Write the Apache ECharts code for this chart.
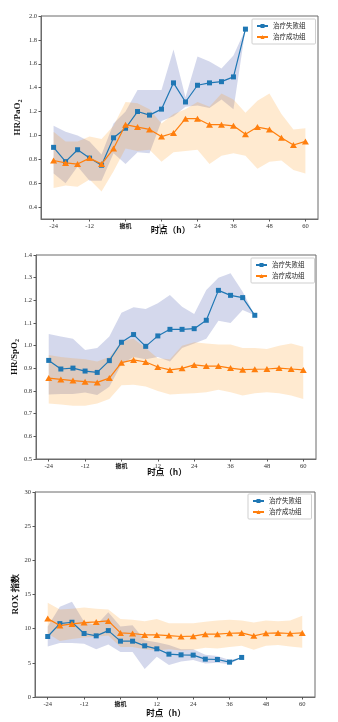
<!DOCTYPE html>
<html>
<head>
<meta charset="utf-8">
<style>
  html, body { margin: 0; padding: 0; background: #fff; }
  #chart { width: 338px; height: 722px; }
</style>
<script src="https://cdn.jsdelivr.net/npm/echarts@6/dist/echarts.min.js"></script>
</head>
<body>
<div id="chart"></div>
<script>
// Time points (h) relative to weaning (0 = 撤机)
const hours = [-24, -20, -16, -12, -8, -4, 0, 4, 8, 12, 16, 20, 24, 28, 32, 36, 40, 44, 48, 52, 56, 60];
const xTicks = [-24, -12, 0, 12, 24, 36, 48, 60];

// Panel 1: HR/PaO2
const pfFail   = [0.90, 0.78, 0.88, 0.81, 0.75, 0.98, 1.06, 1.20, 1.17, 1.22, 1.44, 1.28, 1.42, 1.44, 1.45, 1.49, 1.89];
const pfFailHi = [1.08, 1.03, 1.00, 0.95, 0.84, 1.10, 1.20, 1.38, 1.38, 1.38, 1.72, 1.32, 1.66, 1.62, 1.56, 1.67, 1.89];
const pfFailLo = [0.68, 0.60, 0.74, 0.62, 0.62, 0.85, 0.76, 0.86, 0.85, 1.12, 1.16, 1.24, 1.25, 1.23, 1.30, 1.22, 1.89];
const pfSucc   = [0.79, 0.77, 0.76, 0.81, 0.76, 0.89, 1.09, 1.07, 1.05, 0.99, 1.02, 1.14, 1.14, 1.09, 1.09, 1.08, 1.01, 1.07, 1.05, 0.98, 0.92, 0.95];
const pfSuccHi = [1.03, 0.95, 0.95, 0.99, 0.97, 1.08, 1.28, 1.27, 1.22, 1.10, 1.18, 1.22, 1.28, 1.24, 1.35, 1.30, 1.19, 1.29, 1.35, 1.18, 1.05, 1.06];
const pfSuccLo = [0.56, 0.58, 0.57, 0.63, 0.53, 0.70, 0.89, 0.87, 0.88, 0.78, 0.86, 0.87, 0.88, 0.76, 0.83, 0.85, 0.83, 0.72, 0.78, 0.79, 0.71, 0.68];
const pfTicks  = [0.4, 0.6, 0.8, 1.0, 1.2, 1.4, 1.6, 1.8, 2.0];

// Panel 2: HR/SpO2
const sfFail   = [0.935, 0.897, 0.901, 0.888, 0.882, 0.934, 1.015, 1.049, 0.997, 1.043, 1.072, 1.072, 1.075, 1.112, 1.244, 1.222, 1.212, 1.134];
const sfFailHi = [1.051, 1.040, 1.030, 0.981, 0.990, 1.040, 1.145, 1.169, 1.162, 1.187, 1.224, 1.172, 1.140, 1.246, 1.300, 1.319, 1.238, 1.134];
const sfFailLo = [0.785, 0.787, 0.787, 0.793, 0.782, 0.819, 0.918, 0.950, 0.940, 0.950, 0.930, 0.990, 1.010, 1.030, 1.110, 1.100, 1.157, 1.134];
const sfSucc   = [0.857, 0.851, 0.846, 0.841, 0.838, 0.857, 0.925, 0.937, 0.928, 0.906, 0.893, 0.900, 0.915, 0.910, 0.910, 0.901, 0.894, 0.896, 0.897, 0.901, 0.897, 0.893];
const sfSuccHi = [0.959, 0.950, 0.945, 0.940, 0.930, 0.950, 1.020, 1.030, 0.990, 0.945, 0.940, 1.000, 1.015, 1.010, 1.005, 1.005, 0.990, 0.990, 0.985, 1.000, 1.010, 0.995];
const sfSuccLo = [0.745, 0.740, 0.735, 0.735, 0.745, 0.765, 0.825, 0.828, 0.820, 0.800, 0.785, 0.788, 0.790, 0.795, 0.805, 0.795, 0.780, 0.790, 0.795, 0.790, 0.780, 0.765];
const sfTicks  = [0.5, 0.6, 0.7, 0.8, 0.9, 1.0, 1.1, 1.2, 1.3, 1.4];

// Panel 3: ROX index
const roxFail   = [8.85, 10.74, 10.94, 9.29, 8.95, 9.72, 8.17, 8.17, 7.49, 7.05, 6.27, 6.17, 6.13, 5.54, 5.49, 5.10, 5.79];
const roxFailHi = [10.3, 13.2, 13.95, 11.0, 10.5, 12.4, 10.3, 10.5, 8.3, 8.0, 7.6, 7.0, 7.0, 6.2, 6.0, 5.4, 5.79];
const roxFailLo = [7.4, 7.9, 7.9, 7.8, 7.0, 7.7, 6.6, 6.6, 4.1, 5.9, 4.7, 5.2, 5.4, 4.9, 5.0, 4.8, 5.79];
const roxSucc   = [11.47, 10.45, 10.70, 10.89, 10.99, 11.13, 9.38, 9.29, 9.09, 9.09, 8.99, 8.85, 8.90, 9.19, 9.19, 9.33, 9.38, 8.95, 9.33, 9.38, 9.29, 9.38];
const roxSuccHi = [13.8, 12.8, 12.9, 13.1, 12.9, 12.8, 11.4, 11.3, 11.1, 11.4, 10.8, 10.8, 10.8, 11.0, 11.2, 11.3, 11.2, 10.9, 11.2, 11.1, 11.2, 11.9];
const roxSuccLo = [9.3, 8.2, 8.5, 8.7, 8.8, 9.0, 7.3, 7.3, 7.0, 6.8, 7.0, 6.8, 6.9, 7.2, 7.1, 7.3, 7.5, 6.9, 7.5, 7.6, 7.4, 7.2];
const roxTicks  = [0, 5, 10, 15, 20, 25, 30];

const FAIL = '治疗失败组';
const SUCC = '治疗成功组';
const BLUE = '#1f77b4';
const ORANGE = '#ff7f0e';
const BLUE_BAND = 'rgba(40, 60, 160, 0.2)';
const ORANGE_BAND = 'rgba(255, 150, 20, 0.2)';
const SERIF = '"Liberation Serif", "DejaVu Serif", serif';
const CJK = '"Noto Sans CJK SC", sans-serif';

const pairs = (ys) => ys.map((v, i) => [hours[i], v]);
const triples = (lo, hi) => lo.map((v, i) => [hours[i], v, hi[i]]);

// Shaded range between lower and upper edges, drawn as one polygon
function bandSeries(k, lo, hi, color) {
  const rows = triples(lo, hi);
  return {
    type: 'custom', xAxisIndex: k, yAxisIndex: k, silent: true, z: 1,
    data: rows,
    encode: { x: 0, y: [1, 2] },
    renderItem: (params, api) => {
      if (params.dataIndex !== 0) return { type: 'group', children: [] };
      const top = rows.map((r) => api.coord([r[0], r[2]]));
      const bottom = rows.map((r) => api.coord([r[0], r[1]])).reverse();
      return {
        type: 'polygon',
        shape: { points: top.concat(bottom) },
        style: { fill: color, stroke: null }
      };
    }
  };
}

const panels = [
  { grid: { left: 41, top: 16, width: 277, height: 203 },
    yMin: 0.3, yMax: 2.0, ticks: pfTicks, digits: 1, yName: 'HR/PaO{s|2}', yGap: 18, xGap: 7,
    legend: { left: 252, top: 19 },
    fail: pfFail, failHi: pfFailHi, failLo: pfFailLo, succ: pfSucc, succHi: pfSuccHi, succLo: pfSuccLo },
  { grid: { left: 36, top: 255, width: 280, height: 204 },
    yMin: 0.5, yMax: 1.4, ticks: sfTicks, digits: 1, yName: 'HR/SpO{s|2}', yGap: 16, xGap: 8.5,
    legend: { left: 251, top: 258 },
    fail: sfFail, failHi: sfFailHi, failLo: sfFailLo, succ: sfSucc, succHi: sfSuccHi, succLo: sfSuccLo },
  { grid: { left: 35, top: 492, width: 280, height: 205 },
    yMin: 0, yMax: 30, ticks: roxTicks, digits: 0, yName: 'ROX 指数', yGap: 15, xGap: 11.5,
    legend: { left: 248, top: 494 },
    fail: roxFail, failHi: roxFailHi, failLo: roxFailLo, succ: roxSucc, succHi: roxSuccHi, succLo: roxSuccLo }
];

const grid = [], xAxis = [], yAxis = [], series = [], legend = [];

panels.forEach((p, k) => {
  grid.push(Object.assign({ show: true, borderColor: '#6b6b6b', borderWidth: 1, backgroundColor: 'transparent' }, p.grid));

  xAxis.push({
    type: 'value', gridIndex: k, min: -28.2, max: 64.2,
    name: '时点（h）', nameLocation: 'middle', nameGap: p.xGap, nameMoveOverlap: false,
    nameTextStyle: { fontFamily: CJK, fontWeight: 'bold', fontSize: 8.5, color: '#111', padding: [0, 18, 0, 0] },
    splitLine: { show: false },
    axisLine: { show: true, onZero: false, lineStyle: { color: '#6b6b6b', width: 1 } },
    axisTick: { show: true, length: 2.5, customValues: xTicks, lineStyle: { color: '#555' } },
    axisLabel: {
      customValues: xTicks, margin: 4, fontFamily: SERIF, fontSize: 6.5, color: '#333',
      formatter: (v) => (v === 0 ? '{w|撤机}' : String(v)),
      rich: { w: { fontFamily: CJK, fontWeight: 'bold', fontSize: 6, color: '#111' } }
    }
  });

  yAxis.push({
    type: 'value', gridIndex: k, min: p.yMin, max: p.yMax,
    name: p.yName, nameLocation: 'middle', nameGap: p.yGap, nameRotate: 90, nameMoveOverlap: false,
    nameTextStyle: {
      fontFamily: SERIF, fontWeight: 'bold', fontSize: 9, color: '#111',
      rich: { s: { fontFamily: SERIF, fontWeight: 'bold', fontSize: 6, color: '#111', verticalAlign: 'bottom', padding: [5, 0, 0, 0] } }
    },
    splitLine: { show: false },
    axisLine: { show: true, onZero: false, lineStyle: { color: '#6b6b6b', width: 1 } },
    axisTick: { show: true, length: 2.5, customValues: p.ticks, lineStyle: { color: '#555' } },
    axisLabel: {
      customValues: p.ticks, margin: 4, fontFamily: SERIF, fontSize: 6.5, color: '#333',
      formatter: (v) => Number(v).toFixed(p.digits)
    }
  });

  series.push(bandSeries(k, p.failLo, p.failHi, BLUE_BAND));
  series.push(bandSeries(k, p.succLo, p.succHi, ORANGE_BAND));

  series.push({
    name: FAIL, type: 'line', xAxisIndex: k, yAxisIndex: k, data: pairs(p.fail),
    symbol: 'rect', symbolSize: 5, showAllSymbol: true,
    itemStyle: { color: BLUE }, lineStyle: { color: BLUE, width: 1.2 }, z: 3
  });
  series.push({
    name: SUCC, type: 'line', xAxisIndex: k, yAxisIndex: k, data: pairs(p.succ),
    symbol: 'triangle', symbolSize: [7, 6], showAllSymbol: true,
    itemStyle: { color: ORANGE }, lineStyle: { color: ORANGE, width: 1.2 }, z: 4
  });

  legend.push(Object.assign({
    data: [FAIL, SUCC], orient: 'vertical', itemWidth: 11, itemHeight: 5, itemGap: 3,
    padding: [3, 10, 3, 4], borderColor: '#cfcfcf', borderWidth: 1, borderRadius: 1,
    backgroundColor: '#fff', selectedMode: false,
    textStyle: { fontFamily: CJK, fontSize: 6.5, color: '#222', lineHeight: 8 }
  }, p.legend));
});

const chart = echarts.init(document.getElementById('chart'), null, { renderer: 'canvas' });
chart.setOption({ animation: false, backgroundColor: '#fff', grid, xAxis, yAxis, series, legend });
</script>
</body>
</html>
